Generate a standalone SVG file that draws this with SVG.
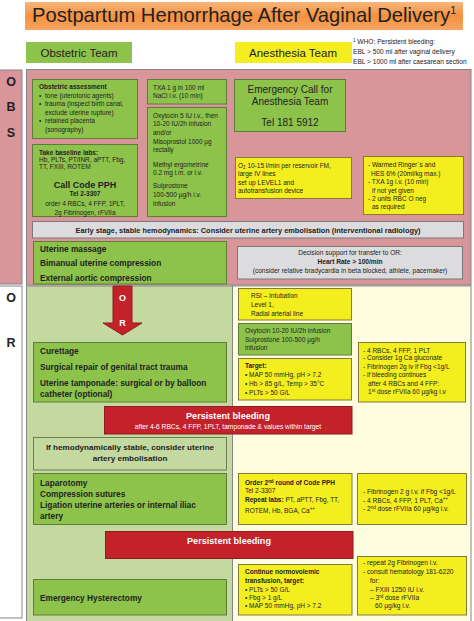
<svg xmlns="http://www.w3.org/2000/svg" width="474" height="621" viewBox="0 0 474 621">
<defs>
<linearGradient id="tg" x1="0" y1="0" x2="0" y2="1">
<stop offset="0" stop-color="#F9B57E"/>
<stop offset="0.5" stop-color="#F5913F"/>
<stop offset="1" stop-color="#F7A563"/>
</linearGradient>
<style>
text{font-family:"Liberation Sans",Arial,Helvetica,sans-serif;fill:#222}
.s{font-size:6.5px}
.xs{font-size:6.6px}
.b{font-weight:bold}
.m{text-anchor:middle}
.w{fill:#fff}
.gr{fill:#8DC34A;stroke:#5E7D3B;stroke-width:1}
.lg{fill:#C4D9A0;stroke:#6F7F5A;stroke-width:1}
.ye{fill:#F5EE1E;stroke:#857A3A;stroke-width:1}
.gy{fill:#DCDCDE;stroke:#7A7A7A;stroke-width:1}
.rd{fill:#C3222B;stroke:#8E1B20;stroke-width:1}
.pn{stroke:#858585;stroke-width:1}
.lab{font-size:12.5px;font-weight:bold;text-anchor:middle}
.sup{font-size:4.5px}
</style>
</defs>

<g id="title">
<rect x="25" y="2" width="438" height="28" fill="url(#tg)"/>
<text x="32" y="22" font-size="20.2">Postpartum Hemorrhage After Vaginal Delivery<tspan font-size="11" dy="-8">1</tspan></text>
</g>

<g id="obstetric-team">
<rect x="26" y="42" width="106" height="21" fill="#8DC34A"/>
<text x="79" y="57" font-size="11.5" class="m">Obstetric Team</text>
</g>
<g id="anesthesia-team">
<rect x="235" y="42" width="117" height="21" fill="#F5EE1E"/>
<text x="293" y="57" font-size="11.5" class="m">Anesthesia Team</text>
</g>
<g id="footnote">
<text x="353" y="44" font-size="6.6"><tspan font-size="4.5" dy="-2">1</tspan><tspan dy="2"> WHO: Persistent bleeding:</tspan></text>
<text x="353" y="54" font-size="6.6">EBL &gt; 500 ml after vaginal delivery</text>
<text x="353" y="64" font-size="6.6">EBL &gt; 1000 ml after caesarean section</text>
</g>

<g id="obs-section">
<rect x="-1" y="70" width="23" height="214" fill="#D8969A" class="pn"/>
<rect x="26.5" y="69.5" width="444.5" height="215.5" fill="#D8969A" class="pn"/>
<text x="11" y="86" class="lab">O</text>
<text x="11" y="111" class="lab">B</text>
<text x="11" y="137" class="lab">S</text>
</g>

<g id="or-section">
<rect x="-1" y="286" width="23" height="332" fill="#fff" class="pn"/>
<rect x="26.5" y="286" width="206" height="336" fill="#C4D9A0" class="pn"/>
<rect x="232.5" y="286" width="238.5" height="336" fill="#FFFDE0" class="pn"/>
<text x="11" y="302" class="lab">O</text>
<text x="11" y="347" class="lab">R</text>
</g>

<g id="obstetric-assessment">
<rect x="32.5" y="79.5" width="105" height="59" class="gr"/>
<text x="39" y="88.5" class="s b">Obstetric assessment</text>
<text x="39" y="97.5" class="s">•</text><text x="45" y="97.5" class="s">tone (uterotonic agents)</text>
<text x="39" y="106" class="s">•</text><text x="45" y="106" class="s">trauma (inspect birth canal,</text>
<text x="45" y="114.5" class="s">exclude uterine rupture)</text>
<text x="39" y="123.3" class="s">•</text><text x="45" y="123.3" class="s">retained placenta</text>
<text x="45" y="131.8" class="s">(sonography)</text>
</g>

<g id="baseline-labs">
<rect x="32.5" y="144.5" width="105" height="72" class="gr"/>
<text x="39" y="154.5" class="s b">Take baseline labs:</text>
<text x="39" y="161.5" class="s">Hb, PLTs, PT/INR, aPTT, Fbg,</text>
<text x="39" y="169" class="s">TT, FXIII, ROTEM</text>
<text x="85" y="187.5" font-size="9" class="b m">Call Code PPH</text>
<text x="85" y="196" class="s b m">Tel 2-3307</text>
<text x="85" y="205.5" class="s m">order 4 RBCs, 4 FFP, 1PLT,</text>
<text x="85" y="214.5" class="s m">2g Fibrinogen, rFVIIa</text>
</g>

<g id="txa">
<rect x="147.5" y="79.5" width="79" height="24.5" class="gr"/>
<text x="153" y="89.5" class="s">TXA 1 g in 100 ml</text>
<text x="153" y="97.5" class="s">NaCl i.v. (10 min)</text>
</g>

<g id="uterotonics">
<rect x="147.5" y="107.5" width="79" height="109" class="gr"/>
<text x="153" y="117.5" class="s">Oxytocin 5 IU i.v., then</text>
<text x="153" y="126.3" class="s">10-20 IU/2h infusion</text>
<text x="153" y="135" class="s">and/or</text>
<text x="153" y="143.7" class="s">Misoprostol 1000 µg</text>
<text x="153" y="152.4" class="s">rectally</text>
<text x="153" y="166.5" class="s">Methyl ergometrine</text>
<text x="153" y="175.3" class="s">0.2 mg i.m. or i.v.</text>
<text x="153" y="188.3" class="s">Sulprostone</text>
<text x="153" y="197" class="s">100-500 µg/h i.v.</text>
<text x="153" y="205.7" class="s">infusion</text>
</g>

<g id="emergency-call">
<rect x="234.5" y="79.5" width="111" height="52" class="gr"/>
<text x="290" y="92.5" font-size="10" class="m">Emergency Call for</text>
<text x="290" y="105" font-size="10" class="m">Anesthesia Team</text>
<text x="290" y="126" font-size="10" class="m">Tel 181 5912</text>
</g>

<g id="oxygen">
<rect x="235.5" y="157.5" width="116" height="41" class="ye"/>
<text x="238" y="167.5" class="s">O<tspan class="sup" dy="1.5">2</tspan><tspan dy="-1.5"> 10-15 l/min per reservoir FM,</tspan></text>
<text x="238" y="176" class="s">large IV lines</text>
<text x="238" y="184.5" class="s">set up LEVEL1 and</text>
<text x="238" y="193" class="s">autotransfusion device</text>
</g>

<g id="fluids">
<rect x="363.5" y="156.5" width="100" height="58" class="ye"/>
<text x="368" y="166.8" class="s">- Warmed Ringer´s and</text>
<text x="371" y="175.6" class="s">HES 6% (20ml/kg max.)</text>
<text x="368" y="184.2" class="s">- TXA 1g i.v. (10 min)</text>
<text x="372" y="192.5" class="s">if  not  yet given</text>
<text x="368" y="200.8" class="s">- 2 units RBC O neg</text>
<text x="372" y="209.2" class="s">as required</text>
</g>

<g id="early-stage">
<rect x="32.5" y="221.5" width="431" height="16.5" class="gy"/>
<text x="248" y="232.5" font-size="7.4" class="b m">Early stage, stable hemodynamics: Consider uterine artery embolisation (interventional radiology)</text>
</g>

<g id="uterine-massage">
<rect x="33.5" y="241.5" width="193" height="42.5" class="gr"/>
<text x="40" y="252" font-size="8.3" class="b">Uterine massage</text>
<text x="40" y="266.3" font-size="8.3" class="b">Bimanual uterine compression</text>
<text x="40" y="280.7" font-size="8.3" class="b">External aortic compression</text>
</g>

<g id="decision-support">
<rect x="237.5" y="246.5" width="225" height="32.5" class="gy"/>
<text x="350" y="254.5" class="xs m">Decision support for transfer to OR:</text>
<text x="350" y="264" class="xs b m">Heart Rate &gt; 100/min</text>
<text x="350" y="272.5" class="xs m">(consider relative bradycardia in beta blocked, athlete, pacemaker)</text>
</g>

<g id="connectors">
<g id="or-arrow">
<polygon points="113,286 132,286 132,323 142,323 122.5,335 103,323 113,323" class="rd"/>
<text x="122.5" y="301" font-size="9" class="b m w">O</text>
<text x="122.5" y="325.5" font-size="9" class="b m w">R</text>
</g>
</g>

<g id="curettage">
<rect x="33.5" y="342.5" width="193" height="59.5" class="gr"/>
<text x="40" y="354" font-size="8.3" class="b">Curettage</text>
<text x="40" y="370" font-size="8.3" class="b">Surgical repair of genital tract trauma</text>
<text x="40" y="385.5" font-size="8.3" class="b">Uterine tamponade: surgical or by balloon</text>
<text x="40" y="396.5" font-size="8.3" class="b">catheter (optional)</text>
</g>

<g id="rsi">
<rect x="238.5" y="288.5" width="113" height="31.5" class="ye"/>
<text x="251" y="298.2" class="s">RSI – Intubation</text>
<text x="251" y="306.6" class="s">Level 1,</text>
<text x="251" y="315.6" class="s">Radial arterial line</text>
</g>

<g id="oxytocin-or">
<rect x="238.5" y="323.5" width="113" height="31.5" class="gr"/>
<text x="245" y="333" class="s">Oxytocin 10-20 IU/2h infusion</text>
<text x="245" y="341.5" class="s">Sulprostone 100-500 µg/h</text>
<text x="245" y="350" class="s">infusion</text>
</g>

<g id="target">
<rect x="238.5" y="358.5" width="113" height="41.5" class="ye"/>
<text x="245" y="367.5" class="s b">Target:</text>
<text x="245" y="376.5" class="s">•  MAP 50 mmHg, pH &gt; 7.2</text>
<text x="245" y="385.8" class="s">•  Hb &gt; 85 g/L, Temp &gt; 35°C</text>
<text x="245" y="394.8" class="s">•  PLTs &gt; 50 G/L</text>
</g>

<g id="transfusion-1">
<rect x="358.5" y="342.5" width="107" height="59.5" class="ye"/>
<text x="363" y="352.5" class="s">- 4 RBCs, 4 FFP, 1 PLT</text>
<text x="363" y="360.3" class="s">- Consider 1g Ca gluconate</text>
<text x="363" y="368.6" class="s">- Fibrinogen 2g iv  if  Fbg &lt;1g/L</text>
<text x="363" y="377.4" class="s">-  if bleeding continues</text>
<text x="368" y="385.8" class="s">after 4 RBCs and 4 FFP:</text>
<text x="368" y="394.2" class="s">1<tspan class="sup" dy="-2.3">st</tspan><tspan dy="2.3"> dose rFVIIa 60 µg/kg i.v</tspan></text>
</g>

<g id="persistent-bleeding-1">
<rect x="104.5" y="406.5" width="247.5" height="27.5" class="rd"/>
<text x="228" y="419" font-size="9.1" class="b m w">Persistent bleeding</text>
<text x="228" y="429.3" font-size="6.7" class="m w">after 4-6 RBCs, 4 FFP, 1PLT, tamponade &amp; values within target</text>
</g>

<g id="embolisation">
<rect x="33.5" y="437.5" width="193" height="32.5" class="lg"/>
<text x="130" y="450" font-size="8.1" class="b m">If hemodynamically stable, consider uterine</text>
<text x="130" y="461" font-size="8.1" class="b m">artery embolisation</text>
</g>

<g id="laparotomy">
<rect x="33.5" y="473.5" width="193" height="51" class="gr"/>
<text x="40" y="486" font-size="8.3" class="b">Laparotomy</text>
<text x="40" y="496.5" font-size="8.3" class="b">Compression sutures</text>
<text x="40" y="508" font-size="8.3" class="b">Ligation uterine arteries or internal iliac</text>
<text x="40" y="519" font-size="8.3" class="b">artery</text>
</g>

<g id="code-pph-2">
<rect x="238.5" y="473.5" width="113.5" height="51" class="ye"/>
<text x="245" y="484.8" class="s b">Order 2<tspan class="sup" dy="-2.3">nd</tspan><tspan dy="2.3"> round of Code PPH</tspan></text>
<text x="245" y="492.6" class="s">Tel 2-3307</text>
<text x="245" y="501.8" class="s"><tspan class="b">Repeat labs:</tspan> PT, aPTT, Fbg, TT,</text>
<text x="245" y="512.5" class="s">ROTEM, Hb, BGA, Ca<tspan class="sup" dy="-2.5">++</tspan></text>
</g>

<g id="transfusion-2">
<rect x="357.5" y="473.5" width="109" height="51" class="ye"/>
<text x="363" y="493.5" class="xs">-  Fibrinogen 2 g i.v. if Fbg &lt;1g/L</text>
<text x="363" y="502.5" class="xs">-  4 RBCs, 4 FFP, 1 PLT, Ca<tspan class="sup" dy="-2.3">++</tspan></text>
<text x="363" y="510.8" class="xs">-  2<tspan class="sup" dy="-2.3">nd</tspan><tspan dy="2.3"> dose rFVIIa 60 µg/kg i.v.</tspan></text>
</g>

<g id="persistent-bleeding-2">
<rect x="105.5" y="531.5" width="247.5" height="27" class="rd"/>
<text x="229" y="543.5" font-size="9.1" class="b m w">Persistent bleeding</text>
</g>

<g id="hysterectomy">
<rect x="33.5" y="579.5" width="193" height="35.5" class="gr"/>
<text x="40" y="600.8" font-size="8.3" class="b">Emergency Hysterectomy</text>
</g>

<g id="continue-transfusion">
<rect x="238.5" y="564.5" width="113.5" height="50.5" class="ye"/>
<text x="245" y="574.2" class="s b">Continue normovolemic</text>
<text x="245" y="582.8" class="s b">transfusion, target:</text>
<text x="245" y="591.5" class="s">•  PLTs &gt; 50 G/L</text>
<text x="245" y="599.8" class="s">•  Fbg &gt; 1 g/L</text>
<text x="245" y="608.2" class="s">•  MAP 50 mmHg, pH &gt; 7.2</text>
</g>

<g id="hematology">
<rect x="357.5" y="556.5" width="109" height="58.5" class="ye"/>
<text x="363" y="565.2" class="xs">-  repeat 2g Fibrinogen i.v.</text>
<text x="363" y="574.2" class="xs">-  consult hematology 181-6220</text>
<text x="370" y="582.8" class="xs">for:</text>
<text x="370" y="591.5" class="xs">– FXIII 1250 IU i.v.</text>
<text x="370" y="599.8" class="xs">– 3<tspan class="sup" dy="-2.3">rd</tspan><tspan dy="2.3"> dose  rFVIIa</tspan></text>
<text x="375" y="608.2" class="xs">60 µg/kg i.v.</text>
</g>
</svg>
